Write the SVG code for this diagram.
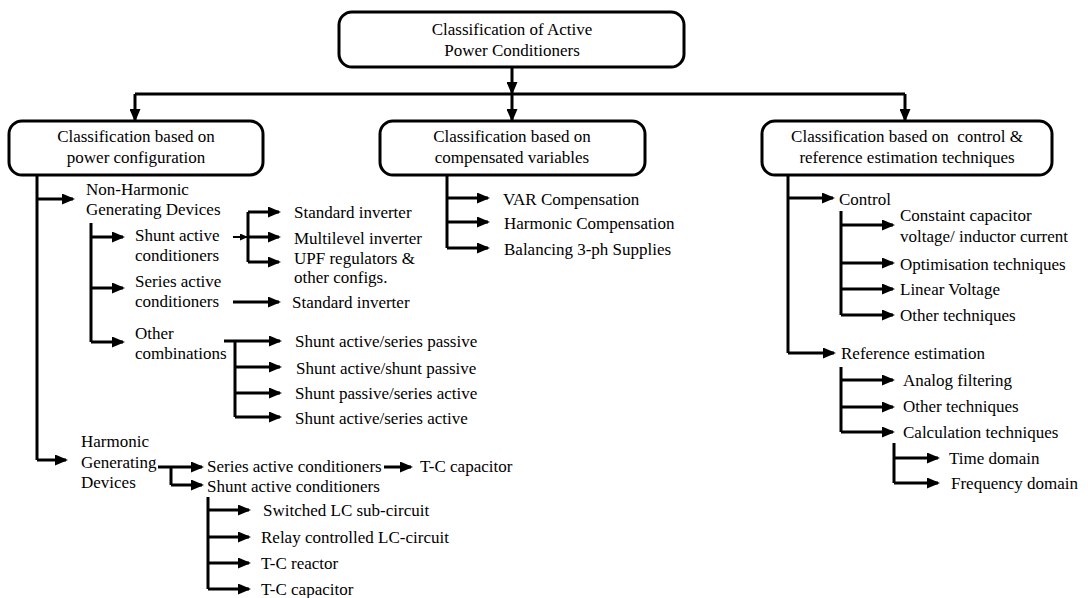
<svg xmlns="http://www.w3.org/2000/svg" width="1088" height="598" viewBox="0 0 1088 598">
<style>
.box{fill:#fff;stroke:#000;stroke-width:3}
.c{fill:none;stroke:#000;stroke-width:3}
.ca{fill:none;stroke:#000;stroke-width:3;marker-end:url(#ah)}
.m{text-anchor:middle}
</style>
<defs>
<marker id="ah" markerUnits="userSpaceOnUse" markerWidth="13" markerHeight="11" refX="11" refY="5.5" orient="auto">
<path d="M0,0 L13,5.5 L0,11 z" fill="#000"/>
</marker>
<marker id="ahs" markerUnits="userSpaceOnUse" markerWidth="8" markerHeight="7" refX="7" refY="3.5" orient="auto">
<path d="M0,0 L8,3.5 L0,7 z" fill="#000"/>
</marker>
</defs>
<g id="connectors">
<path class="ca" d="M512,67 V93"/>
<path class="c" d="M135,94 H905"/>
<path class="ca" d="M135,94 V120"/>
<path class="ca" d="M512,94 V120"/>
<path class="ca" d="M905,94 V120"/>
<path class="c" d="M37,175 V460"/>
<path class="ca" d="M37,199 H73"/>
<path class="ca" d="M37,460 H66"/>
<path class="c" d="M91,223 V342"/>
<path class="ca" d="M91,237 H123"/>
<path class="ca" d="M91,288 H123"/>
<path class="ca" d="M91,342 H123"/>
<path d="M233,237 H247" fill="none" stroke="#000" stroke-width="2" marker-end="url(#ahs)"/>
<path class="c" d="M248,212 V262"/>
<path class="ca" d="M248,212 H279"/>
<path class="ca" d="M248,237 H279"/>
<path class="ca" d="M248,262 H279"/>
<path class="ca" d="M233,302 H279"/>
<path class="ca" d="M224,341 H280"/>
<path class="c" d="M235,341 V417"/>
<path class="ca" d="M235,367 H280"/>
<path class="ca" d="M235,393 H280"/>
<path class="ca" d="M235,417 H280"/>
<path class="ca" d="M158,467 H202"/>
<path class="c" d="M171,467 V485"/>
<path class="ca" d="M171,485 H202"/>
<path class="ca" d="M384,467 H411"/>
<path class="c" d="M208,497 V589"/>
<path class="ca" d="M208,510 H249"/>
<path class="ca" d="M208,537 H249"/>
<path class="ca" d="M208,563 H249"/>
<path class="ca" d="M208,589 H249"/>
<path class="c" d="M447,175 V248"/>
<path class="ca" d="M447,198 H488"/>
<path class="ca" d="M447,222 H488"/>
<path class="ca" d="M447,248 H488"/>
<path class="c" d="M788,175 V353"/>
<path class="ca" d="M788,198 H833"/>
<path class="ca" d="M788,353 H834"/>
<path class="c" d="M841,211 V315"/>
<path class="ca" d="M841,225 H893"/>
<path class="ca" d="M841,263 H893"/>
<path class="ca" d="M841,289 H893"/>
<path class="ca" d="M841,315 H893"/>
<path class="c" d="M841,367 V432"/>
<path class="ca" d="M841,380 H893"/>
<path class="ca" d="M841,407 H893"/>
<path class="ca" d="M841,432 H893"/>
<path class="c" d="M894,443 V483"/>
<path class="ca" d="M894,458 H938"/>
<path class="ca" d="M894,483 H938"/>
</g>
<g font-family="'Liberation Serif', 'Times New Roman', 'DejaVu Serif', serif" font-size="17" fill="#000">
<g id="root">
<rect class="box" x="339" y="12" width="345" height="55" rx="13"/>
<text class="m" x="512" y="35">Classification of Active</text>
<text class="m" x="512" y="56">Power Conditioners</text>
</g>
<g id="power-config">
<rect class="box" x="9" y="121" width="254" height="54" rx="13"/>
<text class="m" x="136" y="142">Classification based on</text>
<text class="m" x="136" y="163">power configuration</text>
</g>
<g id="compensated">
<rect class="box" x="380" y="121" width="265" height="54" rx="13"/>
<text class="m" x="512" y="142">Classification based on</text>
<text class="m" x="512" y="163">compensated variables</text>
</g>
<g id="control-ref">
<rect class="box" x="762" y="121" width="290" height="54" rx="13"/>
<text class="m" x="907" y="142" xml:space="preserve">Classification based on  control &amp;</text>
<text class="m" x="907" y="163">reference estimation techniques</text>
</g>
<g id="non-harmonic"><text x="86" y="195">Non-Harmonic</text><text x="86" y="215">Generating Devices</text></g>
<g id="shunt-active"><text x="135" y="241">Shunt active</text><text x="135" y="261">conditioners</text></g>
<g id="series-active"><text x="135" y="287">Series active</text><text x="135" y="307">conditioners</text></g>
<g id="other-comb"><text x="135" y="339">Other</text><text x="135" y="359">combinations</text></g>
<g id="std-inv-1"><text x="294" y="218">Standard inverter</text></g>
<g id="multilevel"><text x="294" y="244">Multilevel inverter</text></g>
<g id="upf"><text x="294" y="264">UPF regulators &amp;</text><text x="294" y="283">other configs.</text></g>
<g id="std-inv-2"><text x="292" y="308">Standard inverter</text></g>
<g id="oc1"><text x="295" y="347">Shunt active/series passive</text></g>
<g id="oc2"><text x="296" y="374">Shunt active/shunt passive</text></g>
<g id="oc3"><text x="295" y="399">Shunt passive/series active</text></g>
<g id="oc4"><text x="295" y="424">Shunt active/series active</text></g>
<g id="harmonic"><text x="81" y="447">Harmonic</text><text x="81" y="468">Generating</text><text x="81" y="488">Devices</text></g>
<g id="series-active-2"><text x="207" y="472">Series active conditioners</text></g>
<g id="tc-cap-1"><text x="420" y="472">T-C capacitor</text></g>
<g id="shunt-active-2"><text x="207" y="492">Shunt active conditioners</text></g>
<g id="sw-lc"><text x="263" y="516">Switched LC sub-circuit</text></g>
<g id="relay-lc"><text x="261" y="543">Relay controlled LC-circuit</text></g>
<g id="tc-reactor"><text x="261" y="569">T-C reactor</text></g>
<g id="tc-cap-2"><text x="261" y="595">T-C capacitor</text></g>
<g id="var"><text x="503" y="205">VAR Compensation</text></g>
<g id="harm-comp"><text x="504" y="229">Harmonic Compensation</text></g>
<g id="balancing"><text x="504" y="255">Balancing 3-ph Supplies</text></g>
<g id="control"><text x="839" y="205">Control</text></g>
<g id="constaint"><text x="900" y="221">Constaint capacitor</text><text x="900" y="242">voltage/ inductor current</text></g>
<g id="optim"><text x="900" y="270">Optimisation techniques</text></g>
<g id="linear"><text x="900" y="295">Linear Voltage</text></g>
<g id="other-tech-1"><text x="900" y="321">Other techniques</text></g>
<g id="ref-est"><text x="841" y="359">Reference estimation</text></g>
<g id="analog"><text x="903" y="386">Analog filtering</text></g>
<g id="other-tech-2"><text x="903" y="412">Other techniques</text></g>
<g id="calc"><text x="903" y="438">Calculation techniques</text></g>
<g id="time"><text x="949" y="464">Time domain</text></g>
<g id="freq"><text x="951" y="489">Frequency domain</text></g>
</g>
</svg>
